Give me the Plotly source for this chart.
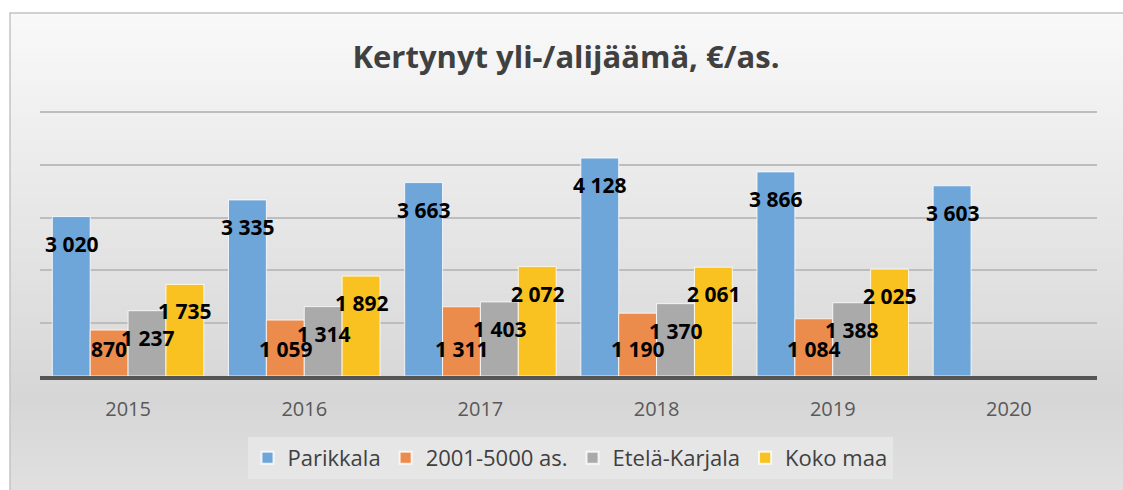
import plotly.graph_objects as go

years = ["2015", "2016", "2017", "2018", "2019", "2020"]
parikkala = [3020, 3335, 3663, 4128, 3866, 3603]
kunnat_2001_5000 = [870, 1059, 1311, 1190, 1084, None]
etela_karjala = [1237, 1314, 1403, 1370, 1388, None]
koko_maa = [1735, 1892, 2072, 2061, 2025, None]

series_names = ["Parikkala", "2001-5000 as.", "Etelä-Karjala", "Koko maa"]
series_values = [parikkala, kunnat_2001_5000, etela_karjala, koko_maa]
series_colors = ["#6fa6d9", "#eb8b4c", "#aaaaaa", "#f9c220"]
label_at_base = [False, True, False, False]

W, H = 1123, 490
ML, MR, MT, MB = 40, 26, 110, 114
BARGAP = 0.14
FONT = "Open Sans"
Y_MAX = 5038

fig = go.Figure()
for name, vals, col in zip(series_names, series_values, series_colors):
    fig.add_trace(go.Bar(
        name=name, x=years, y=vals,
        marker=dict(color=col, line=dict(color="rgba(255,255,255,0.8)", width=1)),
        hoverinfo="skip",
    ))

plot_w = W - ML - MR
plot_h = H - MT - MB
slot_px = plot_w / len(years) * (1 - BARGAP) / len(series_names)

def fmt(v):
    return f"{v:,}".replace(",", " ")

annotations = []
for k, (vals, base) in enumerate(zip(series_values, label_at_base)):
    for i, v in enumerate(vals):
        if v is None:
            continue
        annotations.append(dict(
            x=i, y=0 if base else v, xref="x", yref="y",
            text=fmt(v), showarrow=False,
            xshift=(k - (len(series_names) - 1) / 2) * slot_px,
            yshift=27 if base else -27,
            font=dict(family=FONT, size=21, color="black", weight="bold"),
        ))

# background (gradient approximation) + frame, in paper coordinates of the plot area
def px_x(x):
    return (x - ML) / plot_w

def px_y(y):
    return (H - MB - y) / plot_h

def lerp(c1, c2, t):
    return tuple(round(a + (b - a) * t) for a, b in zip(c1, c2))

stops = [(13, (249, 249, 249)), (400, (214, 214, 214)), (490, (224, 224, 224))]
shapes = []
y = 13
step = 4
while y < 490:
    y2 = min(y + step, 490)
    ym = (y + y2) / 2
    for (ya, ca), (yb, cb) in zip(stops[:-1], stops[1:]):
        if ya <= ym <= yb:
            c = lerp(ca, cb, (ym - ya) / (yb - ya))
            break
    shapes.append(dict(type="rect", xref="paper", yref="paper",
                       x0=px_x(10), x1=px_x(1124), y0=px_y(y2 + 0.5), y1=px_y(y),
                       fillcolor="rgb(%d,%d,%d)" % c, line=dict(width=0), layer="below"))
    y = y2
shapes.append(dict(type="rect", xref="paper", yref="paper",
                   x0=px_x(10), x1=px_x(1130), y0=px_y(495), y1=px_y(13),
                   fillcolor="rgba(0,0,0,0)", line=dict(color="#c4c4c4", width=1.5), layer="below"))

fig.update_layout(
    width=W, height=H,
    margin=dict(l=ML, r=MR, t=MT, b=MB),
    paper_bgcolor="white", plot_bgcolor="rgba(0,0,0,0)",
    barmode="group", bargap=BARGAP, bargroupgap=0,
    title=dict(text="Kertynyt yli-/alijäämä, €/as.", x=566 / W, xanchor="center",
               y=1 - 57 / H, yanchor="middle",
               font=dict(family=FONT, size=31, color="#404040", weight="bold")),
    xaxis=dict(type="category", showline=True, linewidth=3.5, linecolor="#555555",
               tickfont=dict(family=FONT, size=20, color="#595959"),
               ticks="", ticklabelstandoff=12, showgrid=False),
    yaxis=dict(range=[0, Y_MAX], tick0=0, dtick=1000, showticklabels=False, showgrid=True,
               gridcolor="#bdbdbd", gridwidth=1.5, zeroline=False),
    legend=dict(orientation="h", xref="container", yref="container",
                x=570 / W, xanchor="center", y=1 - 458 / H, yanchor="middle",
                bgcolor="#e6e6e6", font=dict(family=FONT, size=22, color="#404040"),
                itemsizing="constant"),
    annotations=annotations,
    shapes=shapes,
    font=dict(family=FONT),
)

fig.write_html("out.html", config={"displayModeBar": False},
               post_script="document.body.style.margin='0';")
